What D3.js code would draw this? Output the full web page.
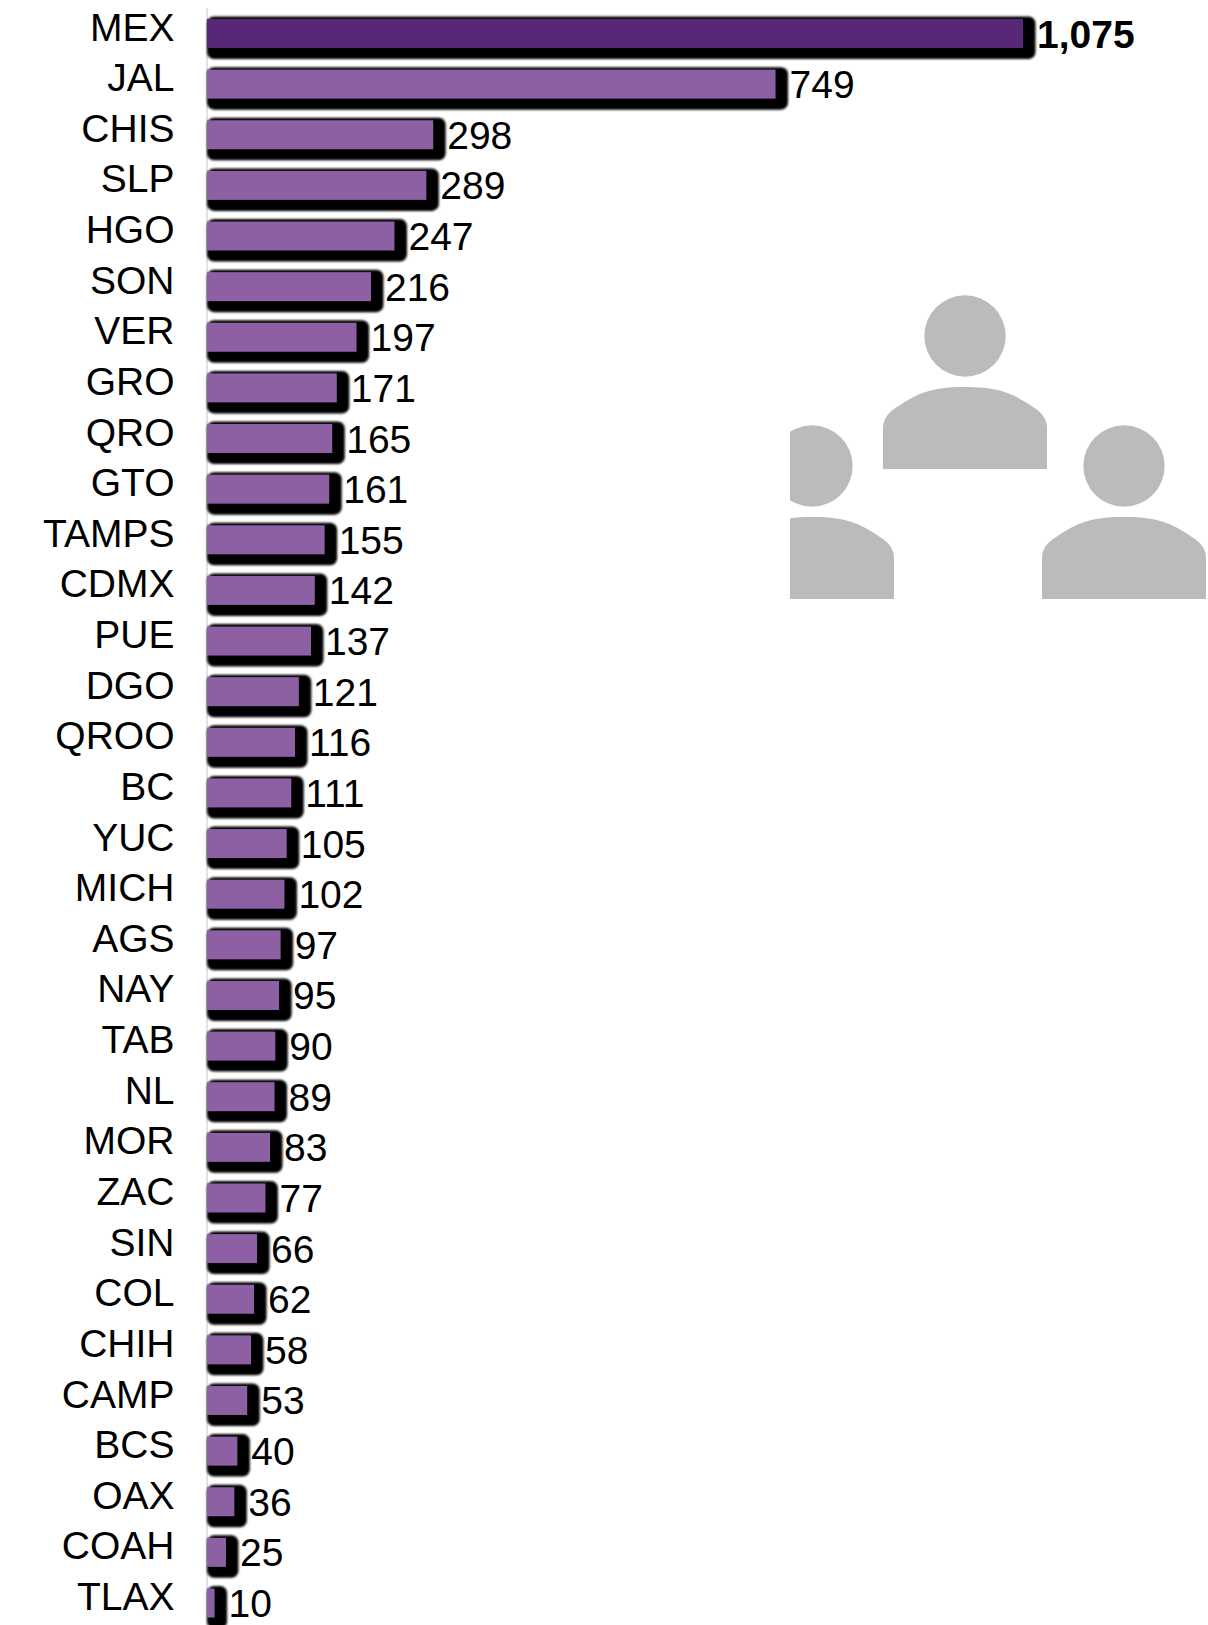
<!DOCTYPE html>
<html><head><meta charset="utf-8">
<script src="https://cdn.jsdelivr.net/npm/d3@7"></script>
<style>html,body{margin:0;padding:0;background:#fff;overflow:hidden}svg{display:block}</style>
</head><body><div id="chart"></div>
<script>
const categories = ["MEX","JAL","CHIS","SLP","HGO","SON","VER","GRO","QRO","GTO","TAMPS","CDMX","PUE","DGO","QROO","BC","YUC","MICH","AGS","NAY","TAB","NL","MOR","ZAC","SIN","COL","CHIH","CAMP","BCS","OAX","COAH","TLAX"];
const values = [1075,749,298,289,247,216,197,171,165,161,155,142,137,121,116,111,105,102,97,95,90,89,83,77,66,62,58,53,40,36,25,10];
const W = 1208, H = 1625;
const svg = d3.select("#chart").append("svg").attr("width",W).attr("height",H);
const defs = svg.append("defs");
defs.append("filter").attr("id","soft").append("feGaussianBlur").attr("stdDeviation",0.8);
defs.append("clipPath").attr("id","iconClip").append("rect").attr("x",790).attr("y",280).attr("width",418).attr("height",330);

const x = d3.scaleLinear().domain([0,1075]).range([207,1023]);
const y = d3.scalePoint().domain(categories).range([33.5,1603]);
const rows = categories.map((c,i)=>({c,v:values[i],i}));

// icons
const icons = [[965,336],[812,466],[1124,466]];
const iconG = svg.append("g").attr("clip-path","url(#iconClip)").attr("fill","#bbbbbb");
icons.forEach(([cx,cy])=>{
  iconG.append("circle").attr("cx",cx).attr("cy",cy).attr("r",40.7);
  const t=cy+51, b=cy+133, l=cx-82, r=cx+82;
  iconG.append("path").attr("d",`M${l},${b}L${l},${t+42}C${l},${t+33} ${l+4},${t+27} ${l+11},${t+22}C${l+32},${t+8} ${cx-38},${t} ${cx},${t}C${cx+38},${t} ${r-32},${t+8} ${r-11},${t+22}C${r-4},${t+27} ${r},${t+33} ${r},${t+42}L${r},${b}Z`);
});

// axis line
svg.append("line").attr("x1",207).attr("x2",207).attr("y1",8).attr("y2",H).attr("stroke","#d9d9d9").attr("stroke-width",1.5);

// shadows
svg.append("g").attr("filter","url(#soft)").selectAll("rect").data(rows).join("rect")
  .attr("x",x(0)).attr("y",d=>y(d.c)-17)
  .attr("width",d=>x(d.v)-x(0)+12.5).attr("height",42.5)
  .attr("rx",7).attr("fill","#000");
// bars
svg.append("g").selectAll("rect").data(rows).join("rect")
  .attr("x",x(0)).attr("y",d=>y(d.c)-14.5)
  .attr("width",d=>x(d.v)-x(0)).attr("height",29)
  .attr("fill",d=>d.i===0?"#582878":"#8d60a3");

const font = "'Liberation Sans', Arial, sans-serif";
// category axis
const axis = d3.axisLeft(y).tickSize(0).tickPadding(0);
const ag = svg.append("g").attr("transform","translate(174.5,-7.5)").call(axis);
ag.select(".domain").remove();
ag.selectAll("text").attr("font-family",font).attr("font-size",39).attr("fill","#000").attr("dy","0.36em");

// value labels
svg.append("g").selectAll("text").data(rows).join("text")
  .attr("x",d=>x(d.v)+14).attr("y",d=>y(d.c)+14)
  .attr("font-family",font).attr("font-size",39).attr("fill","#000")
  .attr("font-weight",d=>d.i===0?"bold":"normal")
  .text(d=>d3.format(",")(d.v));
</script></body></html>
